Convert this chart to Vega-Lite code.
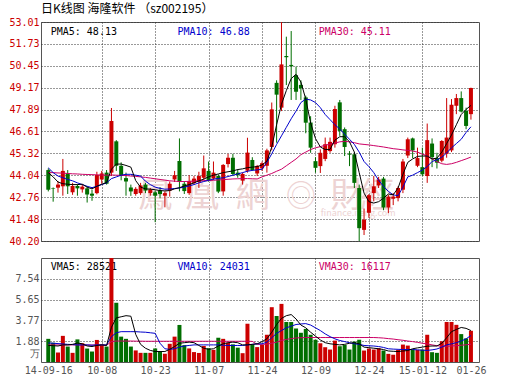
{
"$schema":"https://vega.github.io/schema/vega-lite/v6.json",
"background":"white",
"padding":{"left":8,"top":2,"right":5,"bottom":5},
"config":{"view":{"stroke":"#555555","strokeWidth":1},"font":"DejaVu Sans Mono"},
"spacing":10,
"datasets":{
"k":[
{"i":0,"o":44.35,"h":44.45,"l":43.1,"c":43.2,"v":2.1,"m5":44.2,"m10":44.48,"m30":44.2,"v5":1.5,"v10":1.73,"v30":1.55},
{"i":1,"o":43.3,"h":43.33,"l":42.5,"c":43.27,"v":1.75,"m5":43.95,"m10":44.2,"m30":44.2,"v5":1.48,"v10":1.7,"v30":1.55},
{"i":2,"o":43.32,"h":43.7,"l":43.03,"c":43.5,"v":0.86,"m5":43.65,"m10":44.0,"m30":44.18,"v5":1.45,"v10":1.67,"v30":1.55},
{"i":3,"o":43.4,"h":45.0,"l":42.85,"c":44.3,"v":2.37,"m5":43.55,"m10":43.9,"m30":44.17,"v5":1.55,"v10":1.64,"v30":1.55},
{"i":4,"o":44.15,"h":44.35,"l":42.95,"c":43.4,"v":1.4,"m5":43.52,"m10":43.8,"m30":44.15,"v5":1.55,"v10":1.6,"v30":1.55},
{"i":5,"o":43.05,"h":43.6,"l":42.9,"c":43.42,"v":0.83,"m5":43.5,"m10":43.72,"m30":44.13,"v5":1.6,"v10":1.58,"v30":1.55},
{"i":6,"o":43.42,"h":43.52,"l":42.85,"c":43.28,"v":2.05,"m5":43.5,"m10":43.6,"m30":44.12,"v5":1.72,"v10":1.55,"v30":1.55},
{"i":7,"o":43.22,"h":43.5,"l":43.03,"c":43.38,"v":1.7,"m5":43.52,"m10":43.5,"m30":44.1,"v5":1.65,"v10":1.55,"v30":1.55},
{"i":8,"o":43.28,"h":43.4,"l":42.45,"c":42.92,"v":1.22,"m5":43.35,"m10":43.4,"m30":44.09,"v5":1.45,"v10":1.55,"v30":1.54},
{"i":9,"o":42.97,"h":43.2,"l":42.55,"c":42.85,"v":0.95,"m5":43.25,"m10":43.32,"m30":44.08,"v5":1.4,"v10":1.52,"v30":1.54},
{"i":10,"o":43.0,"h":44.25,"l":42.93,"c":44.06,"v":2.0,"m5":43.4,"m10":43.4,"m30":44.07,"v5":1.5,"v10":1.55,"v30":1.54},
{"i":11,"o":43.8,"h":44.3,"l":43.55,"c":44.15,"v":1.58,"m5":43.52,"m10":43.5,"m30":44.06,"v5":1.55,"v10":1.55,"v30":1.53},
{"i":12,"o":44.2,"h":44.35,"l":43.5,"c":43.55,"v":1.4,"m5":43.62,"m10":43.6,"m30":44.05,"v5":1.5,"v10":1.55,"v30":1.52},
{"i":13,"o":44.2,"h":47.98,"l":44.0,"c":47.22,"v":9.6,"m5":44.4,"m10":43.85,"m30":44.06,"v5":3.15,"v10":2.3,"v30":1.85},
{"i":14,"o":46.03,"h":46.1,"l":44.3,"c":44.6,"v":5.37,"m5":44.7,"m10":43.95,"m30":44.05,"v5":4.0,"v10":2.65,"v30":1.9},
{"i":15,"o":44.6,"h":44.8,"l":43.75,"c":44.02,"v":2.3,"m5":44.7,"m10":44.05,"m30":44.04,"v5":4.1,"v10":2.75,"v30":1.9},
{"i":16,"o":43.88,"h":44.2,"l":42.85,"c":43.68,"v":2.1,"m5":44.62,"m10":44.1,"m30":44.03,"v5":4.2,"v10":2.75,"v30":1.9},
{"i":17,"o":43.33,"h":43.5,"l":42.84,"c":43.1,"v":1.4,"m5":44.52,"m10":44.1,"m30":44.0,"v5":4.15,"v10":2.75,"v30":1.9},
{"i":18,"o":42.95,"h":43.35,"l":42.85,"c":43.25,"v":1.05,"m5":43.73,"m10":44.05,"m30":43.98,"v5":2.5,"v10":2.75,"v30":1.89},
{"i":19,"o":43.0,"h":43.6,"l":42.9,"c":43.45,"v":0.83,"m5":43.35,"m10":44.0,"m30":43.95,"v5":1.6,"v10":2.72,"v30":1.89},
{"i":20,"o":43.5,"h":43.6,"l":43.0,"c":43.15,"v":0.83,"m5":43.25,"m10":43.7,"m30":43.92,"v5":1.25,"v10":2.7,"v30":1.88},
{"i":21,"o":43.0,"h":43.3,"l":42.85,"c":43.2,"v":0.83,"m5":43.23,"m10":43.5,"m30":43.88,"v5":1.05,"v10":2.65,"v30":1.88},
{"i":22,"o":43.05,"h":43.15,"l":41.3,"c":42.85,"v":1.23,"m5":43.2,"m10":43.35,"m30":43.84,"v5":0.95,"v10":2.6,"v30":1.88},
{"i":23,"o":43.15,"h":43.35,"l":42.7,"c":42.95,"v":0.92,"m5":43.15,"m10":43.28,"m30":43.8,"v5":0.95,"v10":1.7,"v30":1.88},
{"i":24,"o":42.85,"h":43.1,"l":42.17,"c":43.0,"v":0.75,"m5":43.13,"m10":43.23,"m30":43.76,"v5":0.95,"v10":1.2,"v30":1.88},
{"i":25,"o":43.15,"h":43.68,"l":42.8,"c":43.55,"v":1.65,"m5":43.15,"m10":43.24,"m30":43.72,"v5":1.15,"v10":1.15,"v30":1.88},
{"i":26,"o":43.8,"h":44.3,"l":43.65,"c":44.05,"v":2.3,"m5":43.25,"m10":43.27,"m30":43.7,"v5":1.4,"v10":1.2,"v30":1.88},
{"i":27,"o":44.88,"h":46.2,"l":43.1,"c":43.65,"v":3.36,"m5":43.32,"m10":43.3,"m30":43.68,"v5":1.7,"v10":1.35,"v30":1.88},
{"i":28,"o":43.55,"h":43.7,"l":42.95,"c":43.12,"v":1.53,"m5":43.42,"m10":43.35,"m30":43.68,"v5":1.75,"v10":1.45,"v30":1.88},
{"i":29,"o":43.0,"h":44.05,"l":42.9,"c":43.7,"v":1.23,"m5":43.5,"m10":43.42,"m30":43.69,"v5":1.8,"v10":1.5,"v30":1.88},
{"i":30,"o":43.6,"h":44.0,"l":43.5,"c":43.85,"v":0.9,"m5":43.6,"m10":43.5,"m30":43.7,"v5":1.75,"v10":1.55,"v30":1.88},
{"i":31,"o":43.65,"h":44.25,"l":43.3,"c":44.0,"v":0.82,"m5":43.72,"m10":43.6,"m30":43.72,"v5":1.5,"v10":1.55,"v30":1.88},
{"i":32,"o":43.9,"h":45.2,"l":43.78,"c":44.45,"v":1.45,"m5":43.82,"m10":43.68,"m30":43.73,"v5":1.25,"v10":1.55,"v30":1.88},
{"i":33,"o":44.3,"h":44.85,"l":43.67,"c":43.77,"v":1.25,"m5":43.95,"m10":43.75,"m30":43.74,"v5":1.15,"v10":1.55,"v30":1.88},
{"i":34,"o":43.85,"h":44.85,"l":43.77,"c":44.2,"v":1.1,"m5":44.05,"m10":43.82,"m30":43.75,"v5":1.2,"v10":1.55,"v30":1.88},
{"i":35,"o":44.0,"h":44.1,"l":43.0,"c":43.09,"v":2.2,"m5":44.12,"m10":43.86,"m30":43.77,"v5":1.45,"v10":1.55,"v30":1.88},
{"i":36,"o":43.1,"h":44.7,"l":42.85,"c":44.65,"v":2.1,"m5":44.2,"m10":43.9,"m30":43.79,"v5":1.65,"v10":1.52,"v30":1.88},
{"i":37,"o":44.7,"h":45.3,"l":44.5,"c":45.07,"v":1.75,"m5":44.25,"m10":43.97,"m30":43.81,"v5":1.75,"v10":1.5,"v30":1.88},
{"i":38,"o":45.07,"h":45.3,"l":44.0,"c":44.12,"v":1.6,"m5":44.3,"m10":44.05,"m30":43.83,"v5":1.8,"v10":1.5,"v30":1.88},
{"i":39,"o":44.2,"h":44.4,"l":43.9,"c":44.05,"v":1.3,"m5":44.38,"m10":44.12,"m30":43.84,"v5":1.75,"v10":1.5,"v30":1.88},
{"i":40,"o":43.73,"h":44.2,"l":43.5,"c":44.12,"v":0.8,"m5":44.42,"m10":44.2,"m30":43.85,"v5":1.55,"v10":1.5,"v30":1.88},
{"i":41,"o":44.31,"h":46.24,"l":44.2,"c":45.37,"v":3.47,"m5":44.49,"m10":44.28,"m30":43.85,"v5":1.55,"v10":1.55,"v30":1.88},
{"i":42,"o":44.94,"h":45.1,"l":44.3,"c":44.35,"v":1.6,"m5":44.52,"m10":44.33,"m30":43.84,"v5":1.6,"v10":1.6,"v30":1.87},
{"i":43,"o":44.15,"h":44.65,"l":44.0,"c":44.59,"v":1.35,"m5":44.55,"m10":44.36,"m30":43.83,"v5":1.65,"v10":1.65,"v30":1.6},
{"i":44,"o":44.45,"h":44.85,"l":44.3,"c":44.75,"v":1.55,"m5":44.65,"m10":44.4,"m30":43.95,"v5":1.85,"v10":1.65,"v30":1.6},
{"i":45,"o":44.6,"h":45.6,"l":44.2,"c":45.5,"v":2.47,"m5":44.87,"m10":44.8,"m30":44.05,"v5":2.1,"v10":1.8,"v30":1.62},
{"i":46,"o":45.7,"h":48.3,"l":45.5,"c":47.9,"v":4.97,"m5":45.7,"m10":45.3,"m30":44.15,"v5":2.7,"v10":2.2,"v30":1.7},
{"i":47,"o":49.45,"h":49.6,"l":45.95,"c":48.76,"v":4.17,"m5":47.0,"m10":45.85,"m30":44.28,"v5":3.4,"v10":2.6,"v30":1.8},
{"i":48,"o":48.0,"h":53.01,"l":47.8,"c":50.53,"v":5.27,"m5":48.2,"m10":46.35,"m30":44.4,"v5":3.95,"v10":2.85,"v30":1.95},
{"i":49,"o":51.02,"h":52.15,"l":49.32,"c":50.95,"v":3.63,"m5":49.0,"m10":46.85,"m30":44.6,"v5":4.2,"v10":3.1,"v30":2.05},
{"i":50,"o":50.5,"h":52.48,"l":48.45,"c":50.42,"v":3.63,"m5":49.7,"m10":47.35,"m30":44.8,"v5":4.3,"v10":3.25,"v30":2.12},
{"i":51,"o":49.9,"h":50.4,"l":48.45,"c":48.93,"v":3.04,"m5":49.95,"m10":47.8,"m30":45.0,"v5":3.9,"v10":3.4,"v30":2.18},
{"i":52,"o":49.33,"h":49.6,"l":48.45,"c":49.13,"v":2.65,"m5":49.5,"m10":48.3,"m30":45.25,"v5":3.35,"v10":3.45,"v30":2.2},
{"i":53,"o":48.6,"h":48.7,"l":46.5,"c":47.12,"v":3.0,"m5":48.5,"m10":48.5,"m30":45.4,"v5":3.1,"v10":3.48,"v30":2.22},
{"i":54,"o":47.13,"h":47.5,"l":45.36,"c":45.66,"v":2.47,"m5":47.1,"m10":48.45,"m30":45.55,"v5":2.7,"v10":3.35,"v30":2.22},
{"i":55,"o":44.87,"h":45.1,"l":44.2,"c":44.48,"v":2.02,"m5":46.2,"m10":48.3,"m30":45.65,"v5":2.35,"v10":3.1,"v30":2.22},
{"i":56,"o":44.58,"h":45.56,"l":44.18,"c":45.36,"v":1.7,"m5":45.7,"m10":48.0,"m30":45.72,"v5":2.0,"v10":2.85,"v30":2.22},
{"i":57,"o":45.0,"h":46.25,"l":44.87,"c":45.86,"v":1.34,"m5":45.55,"m10":47.6,"m30":45.8,"v5":1.75,"v10":2.55,"v30":2.22},
{"i":58,"o":45.46,"h":46.25,"l":45.36,"c":46.0,"v":1.13,"m5":45.56,"m10":47.3,"m30":45.87,"v5":1.65,"v10":2.3,"v30":2.22},
{"i":59,"o":45.86,"h":48.11,"l":45.66,"c":47.92,"v":1.94,"m5":46.1,"m10":47.0,"m30":45.93,"v5":1.6,"v10":2.1,"v30":2.22},
{"i":60,"o":48.31,"h":48.45,"l":46.35,"c":46.64,"v":1.43,"m5":46.3,"m10":46.75,"m30":46.0,"v5":1.55,"v10":1.95,"v30":2.22},
{"i":61,"o":46.74,"h":46.84,"l":45.17,"c":45.7,"v":1.55,"m5":46.3,"m10":46.45,"m30":46.03,"v5":1.6,"v10":1.85,"v30":2.22},
{"i":62,"o":45.3,"h":45.46,"l":44.58,"c":45.25,"v":1.13,"m5":46.0,"m10":46.15,"m30":46.0,"v5":1.7,"v10":1.75,"v30":2.22},
{"i":63,"o":45.27,"h":45.4,"l":43.3,"c":43.6,"v":1.85,"m5":45.4,"m10":45.85,"m30":45.95,"v5":1.75,"v10":1.65,"v30":2.22},
{"i":64,"o":43.3,"h":43.5,"l":40.2,"c":40.95,"v":2.02,"m5":44.2,"m10":45.4,"m30":45.88,"v5":1.65,"v10":1.6,"v30":2.22},
{"i":65,"o":40.85,"h":42.1,"l":40.55,"c":41.45,"v":1.04,"m5":43.0,"m10":44.85,"m30":45.85,"v5":1.35,"v10":1.5,"v30":2.22},
{"i":66,"o":41.85,"h":42.95,"l":41.55,"c":42.88,"v":1.22,"m5":42.5,"m10":44.55,"m30":45.82,"v5":1.3,"v10":1.47,"v30":2.22},
{"i":67,"o":43.0,"h":44.0,"l":42.52,"c":43.4,"v":1.13,"m5":42.42,"m10":44.2,"m30":45.78,"v5":1.25,"v10":1.45,"v30":2.22},
{"i":68,"o":43.45,"h":43.95,"l":43.3,"c":43.8,"v":1.25,"m5":42.5,"m10":43.75,"m30":45.74,"v5":1.2,"v10":1.4,"v30":2.2},
{"i":69,"o":43.85,"h":43.95,"l":42.0,"c":42.16,"v":1.04,"m5":42.7,"m10":43.4,"m30":45.7,"v5":1.13,"v10":1.32,"v30":2.17},
{"i":70,"o":42.16,"h":42.9,"l":41.83,"c":42.8,"v":0.74,"m5":42.95,"m10":43.1,"m30":45.65,"v5":1.0,"v10":1.2,"v30":2.12},
{"i":71,"o":42.67,"h":43.0,"l":42.3,"c":42.8,"v":0.66,"m5":42.9,"m10":42.9,"m30":45.6,"v5":0.97,"v10":1.17,"v30":2.08},
{"i":72,"o":42.71,"h":43.4,"l":42.52,"c":43.3,"v":1.1,"m5":43.3,"m10":42.85,"m30":45.57,"v5":0.95,"v10":1.15,"v30":2.02},
{"i":73,"o":43.2,"h":45.0,"l":43.0,"c":44.85,"v":1.58,"m5":44.1,"m10":43.35,"m30":45.53,"v5":1.0,"v10":1.13,"v30":1.97},
{"i":74,"o":45.2,"h":46.25,"l":45.05,"c":46.15,"v":1.49,"m5":44.8,"m10":43.95,"m30":45.5,"v5":1.04,"v10":1.13,"v30":1.9},
{"i":75,"o":46.2,"h":46.25,"l":45.05,"c":45.5,"v":1.13,"m5":45.0,"m10":44.05,"m30":45.46,"v5":1.2,"v10":1.13,"v30":1.85},
{"i":76,"o":44.6,"h":45.66,"l":44.52,"c":45.05,"v":1.1,"m5":45.15,"m10":44.2,"m30":45.4,"v5":1.28,"v10":1.1,"v30":1.78},
{"i":77,"o":44.52,"h":45.66,"l":44.0,"c":44.1,"v":1.13,"m5":45.17,"m10":44.35,"m30":45.28,"v5":1.35,"v10":1.07,"v30":1.7},
{"i":78,"o":44.0,"h":47.07,"l":43.6,"c":46.1,"v":2.47,"m5":45.17,"m10":44.55,"m30":45.18,"v5":1.43,"v10":1.05,"v30":1.64},
{"i":79,"o":45.9,"h":46.2,"l":44.52,"c":45.1,"v":0.89,"m5":45.0,"m10":44.85,"m30":45.0,"v5":1.45,"v10":1.1,"v30":1.55},
{"i":80,"o":45.05,"h":45.36,"l":44.44,"c":44.78,"v":0.83,"m5":45.05,"m10":44.95,"m30":44.85,"v5":1.45,"v10":1.18,"v30":1.48},
{"i":81,"o":44.9,"h":46.1,"l":44.8,"c":46.05,"v":1.88,"m5":45.4,"m10":45.1,"m30":44.72,"v5":1.7,"v10":1.35,"v30":1.43},
{"i":82,"o":45.3,"h":48.56,"l":45.07,"c":46.25,"v":3.63,"m5":45.9,"m10":45.35,"m30":44.68,"v5":2.2,"v10":1.55,"v30":1.43},
{"i":83,"o":45.5,"h":48.5,"l":45.4,"c":48.17,"v":3.63,"m5":46.4,"m10":45.65,"m30":44.72,"v5":2.75,"v10":1.65,"v30":1.45},
{"i":84,"o":48.11,"h":48.8,"l":47.62,"c":48.56,"v":3.37,"m5":47.0,"m10":45.9,"m30":44.8,"v5":2.95,"v10":1.75,"v30":1.48},
{"i":85,"o":48.56,"h":48.95,"l":47.72,"c":47.77,"v":2.53,"m5":47.6,"m10":46.15,"m30":44.9,"v5":3.13,"v10":1.9,"v30":1.52},
{"i":86,"o":47.81,"h":48.0,"l":46.74,"c":46.93,"v":2.14,"m5":47.9,"m10":46.55,"m30":45.0,"v5":3.05,"v10":2.1,"v30":1.56},
{"i":87,"o":47.62,"h":49.17,"l":47.3,"c":49.15,"v":2.83,"m5":48.13,"m10":46.88,"m30":45.11,"v5":2.85,"v10":2.4,"v30":1.61}
],
"plab":[
{"i":0.5,"y":52.42,"t":"PMA5: 48.13","col":"#000000"},
{"i":26.6,"y":52.42,"t":"PMA10: 46.88","col":"#0000cc"},
{"i":55.65,"y":52.42,"t":"PMA30: 45.11","col":"#cc0066"}
],
"vlab":[
{"i":0.5,"y":8.63,"t":"VMA5: 28521","col":"#000000"},
{"i":26.6,"y":8.63,"t":"VMA10: 24031","col":"#0000cc"},
{"i":55.65,"y":8.63,"t":"VMA30: 16117","col":"#cc0066"}
],
"wm":[
{"i":22,"y":42.77,"t":"鳳","s":34},
{"i":31.7,"y":42.77,"t":"凰","s":34},
{"i":42.1,"y":42.77,"t":"網","s":34},
{"i":52,"y":42.77,"t":"◎","s":30},
{"i":61.6,"y":42.77,"t":"財","s":34},
{"i":67.7,"y":42.77,"t":"經","s":34},
{"i":63.8,"y":41.85,"t":"finance.ifeng.com","s":9}
]
},
"vconcat":[
{
"width":438,"height":219,
"title":{"text":"日K线图 海隆软件 （sz002195）","anchor":"start","frame":"group","font":"Noto Sans CJK SC","fontSize":12,"fontWeight":"normal","color":"#000000","offset":1},
"encoding":{"x":{"field":"i","type":"quantitative","scale":{"domain":[-0.47,87.63],"nice":false,"zero":false},
"axis":{"values":[11,22,33,44,55,66,77],"labels":false,"ticks":false,"domain":false,"grid":true,"gridColor":"#333333","gridDash":[1,2],"title":null}}},
"layer":[
{"data":{"name":"wm"},"mark":{"type":"text","font":"Noto Sans CJK TC","color":"#edd3d3","align":"center","baseline":"middle"},
"encoding":{"y":{"field":"y","type":"quantitative","scale":{"domain":[40.2,53.01],"nice":false,"zero":false},
"axis":{"values":[40.2,41.48,42.76,44.04,45.32,46.61,47.89,49.17,50.45,51.73,53.01],"format":".2f","labelColor":"#cc0000","labelFont":"DejaVu Sans Mono","labelFontSize":10,"ticks":false,"domain":false,"labelPadding":2,"grid":true,"gridColor":"#333333","gridDash":[1,2],"title":null}},
"text":{"field":"t"},"size":{"field":"s","type":"quantitative","scale":null}}},
{"data":{"name":"plab"},"mark":{"type":"text","align":"left","baseline":"middle","font":"DejaVu Sans Mono","fontSize":10},
"encoding":{"y":{"field":"y","type":"quantitative","scale":{"domain":[40.2,53.01],"nice":false,"zero":false},
"axis":{"values":[40.2,41.48,42.76,44.04,45.32,46.61,47.89,49.17,50.45,51.73,53.01],"format":".2f","labelColor":"#cc0000","labelFont":"DejaVu Sans Mono","labelFontSize":10,"ticks":false,"domain":false,"labelPadding":2,"grid":true,"gridColor":"#333333","gridDash":[1,2],"title":null}},"text":{"field":"t"},"color":{"field":"col","type":"nominal","scale":null}}},
{"data":{"name":"k"},"mark":{"type":"rule","strokeWidth":1},
"encoding":{"y":{"field":"l","type":"quantitative","scale":{"domain":[40.2,53.01],"nice":false,"zero":false},
"axis":{"values":[40.2,41.48,42.76,44.04,45.32,46.61,47.89,49.17,50.45,51.73,53.01],"format":".2f","labelColor":"#cc0000","labelFont":"DejaVu Sans Mono","labelFontSize":10,"ticks":false,"domain":false,"labelPadding":2,"grid":true,"gridColor":"#333333","gridDash":[1,2],"title":null}},"y2":{"field":"h"},
"color":{"condition":{"test":"datum.c >= datum.o","value":"#cc0000"},"value":"#006e00"}}},
{"data":{"name":"k"},"mark":{"type":"bar","width":4},
"encoding":{"y":{"field":"o","type":"quantitative","scale":{"domain":[40.2,53.01],"nice":false,"zero":false},
"axis":{"values":[40.2,41.48,42.76,44.04,45.32,46.61,47.89,49.17,50.45,51.73,53.01],"format":".2f","labelColor":"#cc0000","labelFont":"DejaVu Sans Mono","labelFontSize":10,"ticks":false,"domain":false,"labelPadding":2,"grid":true,"gridColor":"#333333","gridDash":[1,2],"title":null}},"y2":{"field":"c"},
"color":{"condition":{"test":"datum.c >= datum.o","value":"#cc0000"},"value":"#006e00"}}},
{"data":{"name":"k"},"mark":{"type":"line","color":"#cc0066","strokeWidth":1},"encoding":{"y":{"field":"m30","type":"quantitative","scale":{"domain":[40.2,53.01],"nice":false,"zero":false},
"axis":{"values":[40.2,41.48,42.76,44.04,45.32,46.61,47.89,49.17,50.45,51.73,53.01],"format":".2f","labelColor":"#cc0000","labelFont":"DejaVu Sans Mono","labelFontSize":10,"ticks":false,"domain":false,"labelPadding":2,"grid":true,"gridColor":"#333333","gridDash":[1,2],"title":null}}}},
{"data":{"name":"k"},"mark":{"type":"line","color":"#0000cc","strokeWidth":1},"encoding":{"y":{"field":"m10","type":"quantitative","scale":{"domain":[40.2,53.01],"nice":false,"zero":false},
"axis":{"values":[40.2,41.48,42.76,44.04,45.32,46.61,47.89,49.17,50.45,51.73,53.01],"format":".2f","labelColor":"#cc0000","labelFont":"DejaVu Sans Mono","labelFontSize":10,"ticks":false,"domain":false,"labelPadding":2,"grid":true,"gridColor":"#333333","gridDash":[1,2],"title":null}}}},
{"data":{"name":"k"},"mark":{"type":"line","color":"#000000","strokeWidth":1},"encoding":{"y":{"field":"m5","type":"quantitative","scale":{"domain":[40.2,53.01],"nice":false,"zero":false},
"axis":{"values":[40.2,41.48,42.76,44.04,45.32,46.61,47.89,49.17,50.45,51.73,53.01],"format":".2f","labelColor":"#cc0000","labelFont":"DejaVu Sans Mono","labelFontSize":10,"ticks":false,"domain":false,"labelPadding":2,"grid":true,"gridColor":"#333333","gridDash":[1,2],"title":null}}}}
]
},
{
"width":438,"height":104,
"encoding":{"x":{"field":"i","type":"quantitative","scale":{"domain":[-0.47,87.63],"nice":false,"zero":false},
"axis":{"values":[0,11,22,33,44,55,66,77,87],"labelExpr":"{'0':'14-09-16','11':'10-08','22':'10-23','33':'11-07','44':'11-24','55':'12-09','66':'12-24','77':'15-01-12','87':'01-26'}[datum.value]","labelColor":"#555555","labelFont":"DejaVu Sans Mono","labelFontSize":10,"labelOverlap":false,"labelFlush":false,"ticks":false,"domain":false,"labelPadding":3,"grid":true,"gridColor":"#333333","gridDash":[1,2],"gridOpacity":{"condition":{"test":"datum.value==0 || datum.value==87","value":0},"value":1},"title":null}}},
"layer":[
{"data":{"name":"vlab"},"mark":{"type":"text","align":"left","baseline":"middle","font":"DejaVu Sans Mono","fontSize":10},
"encoding":{"y":{"field":"y","type":"quantitative","scale":{"domain":[0,9.43],"nice":false,"zero":true},
"axis":{"values":[0.75,1.88,3.77,5.65,7.54],"labelExpr":"datum.value < 1 ? '万' : format(datum.value, '.2f')","labelColor":"#555555","labelFont":"DejaVu Sans Mono","labelFontSize":10,"ticks":false,"domain":false,"labelPadding":2,"grid":true,"gridColor":"#333333","gridDash":[1,2],"gridOpacity":{"condition":{"test":"datum.value < 1","value":0},"value":1},"title":null}},"text":{"field":"t"},"color":{"field":"col","type":"nominal","scale":null}}},
{"data":{"name":"k"},"mark":{"type":"bar","width":4,"clip":true},
"encoding":{"y":{"field":"v","type":"quantitative","scale":{"domain":[0,9.43],"nice":false,"zero":true},
"axis":{"values":[0.75,1.88,3.77,5.65,7.54],"labelExpr":"datum.value < 1 ? '万' : format(datum.value, '.2f')","labelColor":"#555555","labelFont":"DejaVu Sans Mono","labelFontSize":10,"ticks":false,"domain":false,"labelPadding":2,"grid":true,"gridColor":"#333333","gridDash":[1,2],"gridOpacity":{"condition":{"test":"datum.value < 1","value":0},"value":1},"title":null}},
"color":{"condition":{"test":"datum.c >= datum.o","value":"#cc0000"},"value":"#006e00"}}},
{"data":{"name":"k"},"mark":{"type":"line","color":"#cc0066","strokeWidth":1},"encoding":{"y":{"field":"v30","type":"quantitative","scale":{"domain":[0,9.43],"nice":false,"zero":true},
"axis":{"values":[0.75,1.88,3.77,5.65,7.54],"labelExpr":"datum.value < 1 ? '万' : format(datum.value, '.2f')","labelColor":"#555555","labelFont":"DejaVu Sans Mono","labelFontSize":10,"ticks":false,"domain":false,"labelPadding":2,"grid":true,"gridColor":"#333333","gridDash":[1,2],"gridOpacity":{"condition":{"test":"datum.value < 1","value":0},"value":1},"title":null}}}},
{"data":{"name":"k"},"mark":{"type":"line","color":"#0000cc","strokeWidth":1},"encoding":{"y":{"field":"v10","type":"quantitative","scale":{"domain":[0,9.43],"nice":false,"zero":true},
"axis":{"values":[0.75,1.88,3.77,5.65,7.54],"labelExpr":"datum.value < 1 ? '万' : format(datum.value, '.2f')","labelColor":"#555555","labelFont":"DejaVu Sans Mono","labelFontSize":10,"ticks":false,"domain":false,"labelPadding":2,"grid":true,"gridColor":"#333333","gridDash":[1,2],"gridOpacity":{"condition":{"test":"datum.value < 1","value":0},"value":1},"title":null}}}},
{"data":{"name":"k"},"mark":{"type":"line","color":"#000000","strokeWidth":1},"encoding":{"y":{"field":"v5","type":"quantitative","scale":{"domain":[0,9.43],"nice":false,"zero":true},
"axis":{"values":[0.75,1.88,3.77,5.65,7.54],"labelExpr":"datum.value < 1 ? '万' : format(datum.value, '.2f')","labelColor":"#555555","labelFont":"DejaVu Sans Mono","labelFontSize":10,"ticks":false,"domain":false,"labelPadding":2,"grid":true,"gridColor":"#333333","gridDash":[1,2],"gridOpacity":{"condition":{"test":"datum.value < 1","value":0},"value":1},"title":null}}}}
]
}
]
}
